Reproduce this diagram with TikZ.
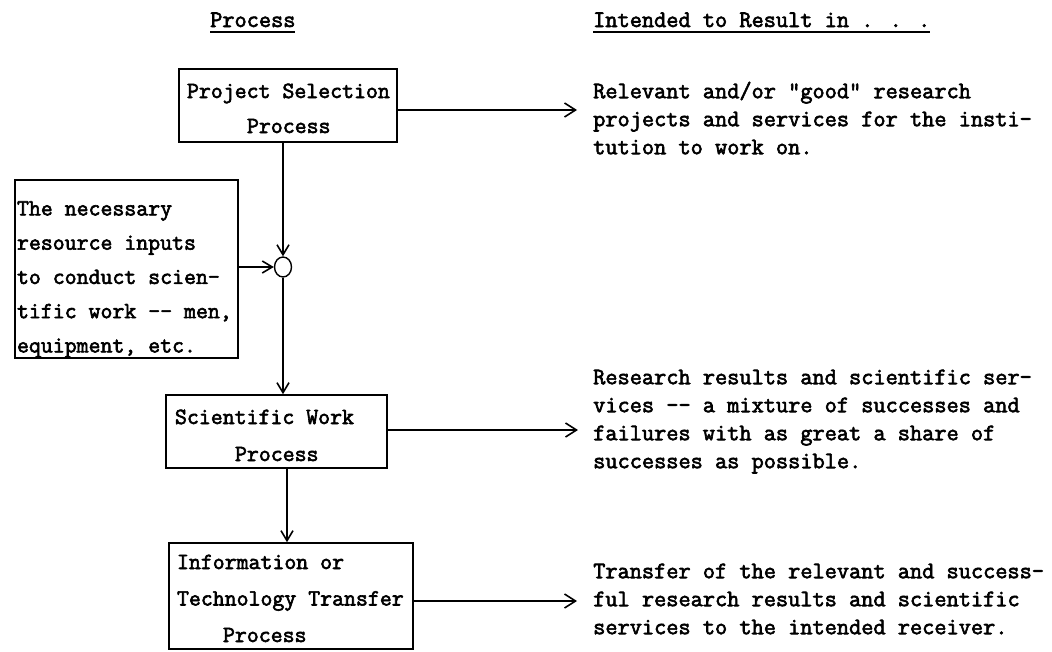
\documentclass[tikz,border=0pt]{standalone}
\usepackage{fontspec}
\usetikzlibrary{arrows.meta,shapes.geometric}
\newfontfamily\typefont{Latin Modern Mono}[FakeBold=2.6]
\newcommand\typeul[1]{\sbox0{#1}\rlap{\rule[-6pt]{\wd0}{2.2pt}}\usebox0}
\newcommand\topstrut[1]{\rule{0pt}{#1pt}}
\newcommand\botstrut[1]{\rule[-#1pt]{0pt}{#1pt}}
\newcommand\natspace{\spaceskip=0pt\relax\xspaceskip=0pt\relax}
\begin{document}
\begin{tikzpicture}[x=1pt,y=-1pt,
  box/.style={draw, line width=1.6pt, rectangle, inner xsep=0pt, inner ysep=0pt,
    align=left, font=\typefont\fontsize{23.17}{#1}\selectfont},
  rtext/.style={inner sep=0pt, anchor=north west, align=left,
    font=\typefont\fontsize{23.66}{28}\selectfont},
  head/.style={inner sep=0pt, anchor=base west, font=\typefont\fontsize{23.66}{26}\selectfont},
  arr/.style={line width=1.6pt, -{Straight Barb[length=11pt,width=14pt,line width=1.6pt]}},
  arrs/.style={line width=1.6pt, -{Straight Barb[length=10pt,width=12pt,line width=1.6pt]}},
  junction/.style={draw, ellipse, line width=1.4pt, minimum width=17pt, minimum height=20pt, inner sep=0pt}
]
\fill[white] (0,0) rectangle (1052,651);
\useasboundingbox (0,0) rectangle (1052,651);

% headers
\node[head] (hproc) at (210,27) {\typeul{Process}};
\node[head] (hres) at (593,27) {\typeul{Intended to Result in . . .}};

% boxes
\node[box=35, minimum width=218pt, minimum height=73pt, text width=202pt] (psel) at (288,105.5)
  {\natspace\topstrut{25}\mbox{Project Selection}\\\hspace*{60pt}\mbox{Process}\botstrut{5}};
\node[box=34.25, minimum width=223pt, minimum height=178pt, text width=219pt] (res) at (126.5,269)
  {\natspace\topstrut{35}\mbox{The necessary}\\\mbox{resource inputs}\\\mbox{to conduct scien-}\\\mbox{tific work -{}- men,}\\\mbox{equipment, etc.}\botstrut{4}};
\node[junction] (circ) at (283,267) {};
\node[box=37, minimum width=221pt, minimum height=73pt, text width=203pt] (sci) at (276.5,431.5)
  {\natspace\topstrut{27}\mbox{Scientific Work}\\\hspace*{60pt}\mbox{Process}\botstrut{5}};
\node[box=36.5, minimum width=244pt, minimum height=106pt, text width=228pt] (itt) at (291,596)
  {\natspace\topstrut{24}\mbox{Information or}\\\mbox{Technology Transfer}\\\hspace*{46pt}\mbox{Process}\botstrut{5}};

% result texts
\node[rtext] (r1) at (593,80)
  {\topstrut{18}Relevant and/or "good" research\\projects and services for the insti-\\tution to work on.};
\node[rtext] (r2) at (593,366)
  {\topstrut{18}Research results and scientific ser-\\vices -{}- a mixture of successes and\\failures with as great a share of\\successes as possible.};
\node[rtext] (r3) at (593,560)
  {\topstrut{18}Transfer of the relevant and success-\\ful research results and scientific\\services to the intended receiver.};

% arrow end points
\coordinate (e1) at (577,110);
\coordinate (e2) at (578,430);
\coordinate (e3) at (577,601);
\coordinate (v2) at (287,500);

% connectors
\draw[arr] (psel.east |- e1) -- (e1);
\draw[arr] (sci.east |- e2) -- (e2);
\draw[arr] (itt.east |- e3) -- (e3);
\draw[arrs] (circ |- psel.south) -- (circ.north);
\draw[arrs] (res.east |- circ) -- (circ.west);
\draw[arrs] (circ.south) -- (circ |- sci.north);
\draw[arrs] (v2 |- sci.south) -- (v2 |- itt.north);
\end{tikzpicture}
\end{document}
